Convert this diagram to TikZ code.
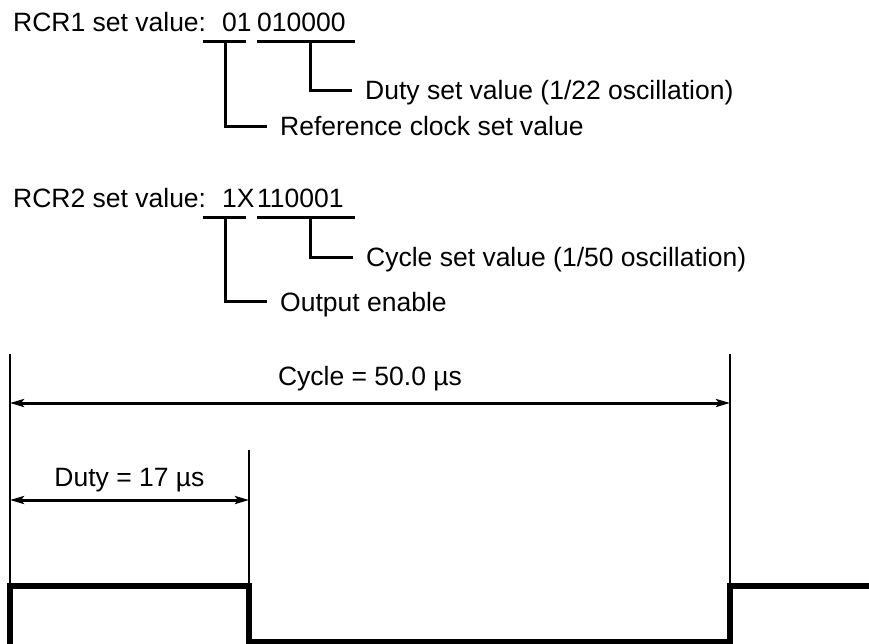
\documentclass[tikz,border=0pt]{standalone}
\usepackage{fontspec}
\setmainfont{Liberation Sans}
\usetikzlibrary{positioning, arrows.meta}

\begin{document}
\begin{tikzpicture}[x=1pt, y=-1pt,
  every node/.style={font=\fontsize{26.5}{30}\selectfont},
  field/.style={inner sep=0pt, anchor=base west},
  note/.style={anchor=west, inner xsep=13pt, inner ysep=0pt, text height=19pt, text depth=0pt},
  dimlabel/.style={inner sep=0pt, text depth=0pt},
  bar/.style={line width=3pt},
  edge/.style={line width=2.6pt},
  dim/.style={line width=3pt, {Stealth[length=14pt,width=8pt,inset=3pt]}-{Stealth[length=14pt,width=8pt,inset=3pt]}},
  wave/.style={line width=6pt, line join=miter}]

\useasboundingbox (0,0) rectangle (869,643);

% RCR1 register
\node[field] (rcr1) at (13,31.5) {RCR1 set value:};
\node[field] (rcr1clk) at (222,31.5) {01};
\node[field] (rcr1duty) at (257,31.5) {010000};
\coordinate (u1a) at (203,41.5);
\coordinate (u1b) at (246,41.5);
\coordinate (u1c) at (257,41.5);
\coordinate (u1d) at (355,41.5);
\draw[bar] (u1a) -- (u1b);
\draw[bar] (u1c) -- (u1d);

\node[note] (duty) at (352,90) {Duty set value (1/22 oscillation)};
\node[note] (refclk) at (267,126) {Reference clock set value};
\draw[bar] (310,41.5) |- (duty.west);
\draw[bar] (225,41.5) |- (refclk.west);

% RCR2 register
\node[field] (rcr2) at (13,207) {RCR2 set value:};
\node[field] (rcr2oe) at (222,207) {1X};
\node[field] (rcr2cyc) at (257,207) {110001};
\coordinate (u2a) at (203,217);
\coordinate (u2b) at (246,217);
\coordinate (u2c) at (257,217);
\coordinate (u2d) at (355,217);
\draw[bar] (u2a) -- (u2b);
\draw[bar] (u2c) -- (u2d);

\node[note] (cycle) at (353,257) {Cycle set value (1/50 oscillation)};
\node[note] (outen) at (267,301.5) {Output enable};
\draw[bar] (310,217) |- (cycle.west);
\draw[bar] (225,217) |- (outen.west);

% timing
\coordinate (t0) at (10,354);
\coordinate (t1) at (249,450);
\coordinate (t2) at (730,354);
\draw[edge] (t0) -- (10,643);
\draw[edge] (t1) -- (249,586);
\draw[edge] (t2) -- (730,586);

\coordinate (cycA) at (10,403);
\coordinate (cycB) at (730,403);
\coordinate (dutA) at (10,500);
\coordinate (dutB) at (249,500);
\draw[dim] (cycA) -- node[dimlabel, midway, above=16pt] (cyclbl) {Cycle = 50.0 µs} (cycB);
\draw[dim] (dutA) -- node[dimlabel, midway, above=12pt] (dutylbl) {Duty = 17 µs} (dutB);

% output waveform
\draw[wave] (10,660) -- (10,586) -- (249,586) -- (249,642) -- (730,642) -- (730,586) -- (880,586);

\end{tikzpicture}
\end{document}
